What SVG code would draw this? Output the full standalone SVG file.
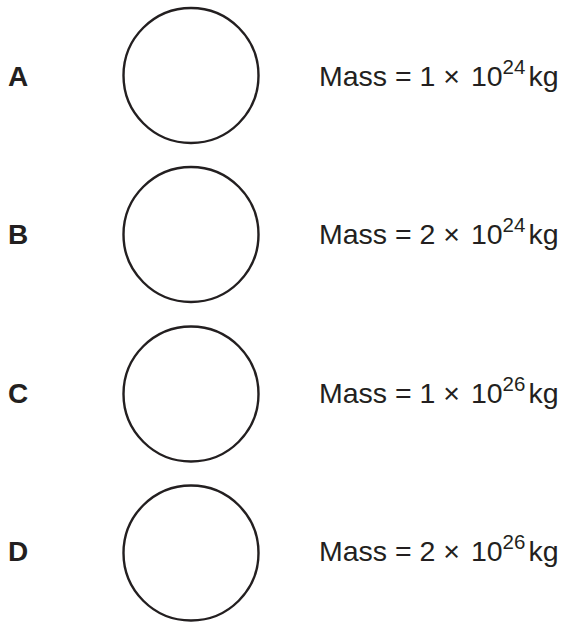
<svg xmlns="http://www.w3.org/2000/svg" width="568" height="622" viewBox="0 0 568 622">
<style>
.c{fill:none;stroke:#231f20;stroke-width:2.4}
.l{font-family:"Liberation Sans",Arial,sans-serif;font-weight:bold;font-size:28px;fill:#231f20}
.t{font-family:"Liberation Sans",Arial,sans-serif;font-size:28.5px;fill:#231f20}
.s{font-size:20.5px}
</style>
<rect width="568" height="622" fill="#fff"/>
<g id="A">
<text class="l" x="8" y="86">A</text>
<circle class="c" cx="191" cy="75.5" r="67.5"/>
<text class="t" x="319" y="86">Mass = 1 ×<tspan dx="3"> 10</tspan><tspan class="s" dy="-12">24</tspan><tspan dy="12" dx="3">kg</tspan></text>
</g>
<g id="B">
<text class="l" x="8" y="244">B</text>
<circle class="c" cx="191" cy="234.5" r="67.5"/>
<text class="t" x="319" y="244">Mass = 2 ×<tspan dx="3"> 10</tspan><tspan class="s" dy="-12">24</tspan><tspan dy="12" dx="3">kg</tspan></text>
</g>
<g id="C">
<text class="l" x="8" y="403">C</text>
<circle class="c" cx="191" cy="394" r="67.5"/>
<text class="t" x="319" y="403">Mass = 1 ×<tspan dx="3"> 10</tspan><tspan class="s" dy="-12">26</tspan><tspan dy="12" dx="3">kg</tspan></text>
</g>
<g id="D">
<text class="l" x="8" y="561">D</text>
<circle class="c" cx="191" cy="553" r="67.5"/>
<text class="t" x="319" y="561">Mass = 2 ×<tspan dx="3"> 10</tspan><tspan class="s" dy="-12">26</tspan><tspan dy="12" dx="3">kg</tspan></text>
</g>
<g id="connectors"/>
</svg>
